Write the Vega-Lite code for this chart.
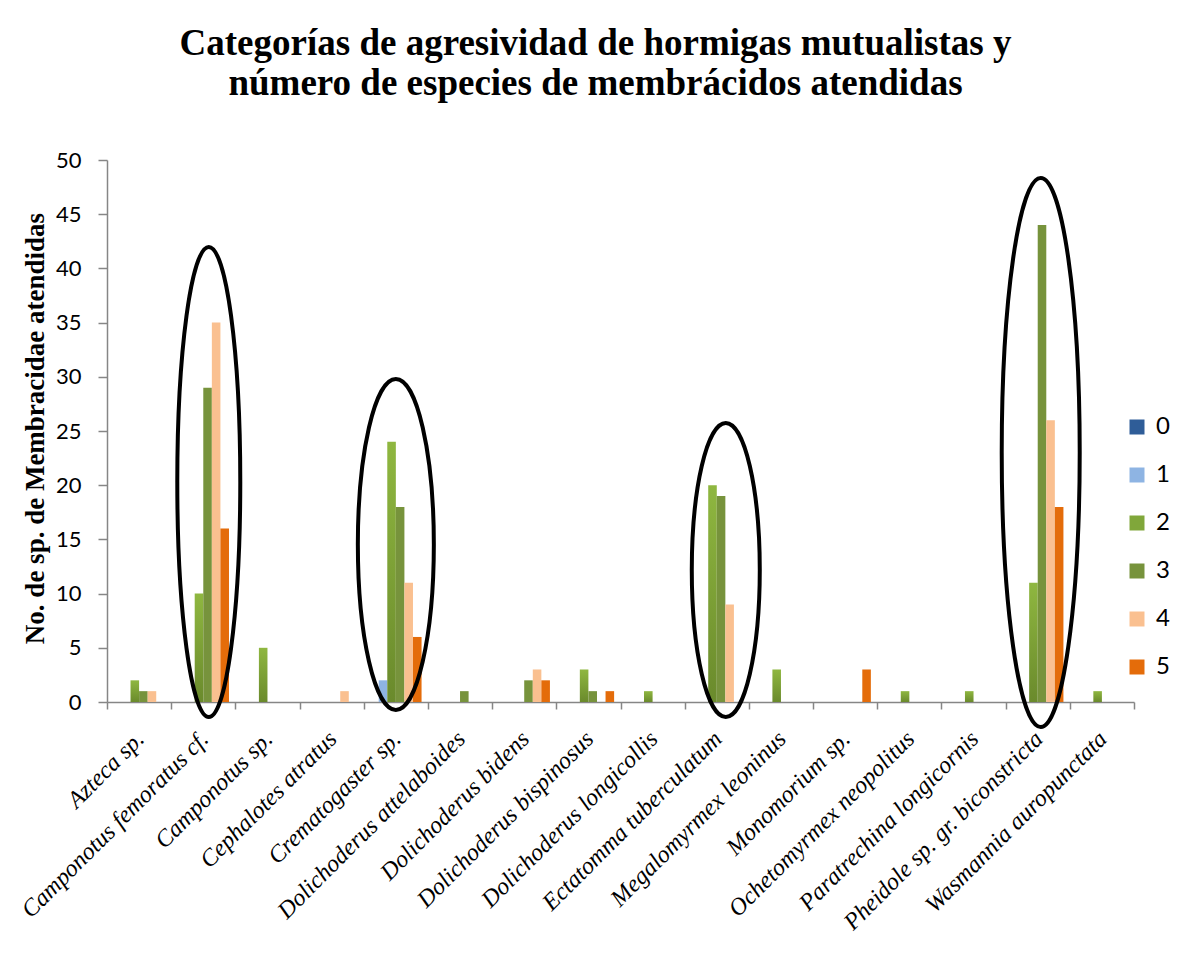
{
  "$schema": "https://vega.github.io/schema/vega-lite/v6.json",
  "width": 1027,
  "height": 542,
  "autosize": "none",
  "padding": {"left": 107, "top": 160, "right": 47, "bottom": 265},
  "background": "white",
  "title": {
    "text": ["Categorías de agresividad de hormigas mutualistas y", "número de especies de membrácidos atendidas"],
    "font": "Liberation Serif",
    "fontSize": 37,
    "fontWeight": "bold",
    "color": "black",
    "lineHeight": 40,
    "anchor": "middle",
    "frame": "group",
    "offset": 46,
    "dx": -25
  },
  "config": {
    "view": {"stroke": null},
    "axis": {"grid": false, "domainColor": "#868686", "tickColor": "#868686", "domainWidth": 1.5, "tickWidth": 1.5}
  },
  "layer": [
    {
      "data": {
        "values": [
          {"especie": "Azteca sp.", "cat": "2", "n": 2},
          {"especie": "Azteca sp.", "cat": "3", "n": 1},
          {"especie": "Azteca sp.", "cat": "4", "n": 1},
          {"especie": "Camponotus femoratus cf.", "cat": "2", "n": 10},
          {"especie": "Camponotus femoratus cf.", "cat": "3", "n": 29},
          {"especie": "Camponotus femoratus cf.", "cat": "4", "n": 35},
          {"especie": "Camponotus femoratus cf.", "cat": "5", "n": 16},
          {"especie": "Camponotus sp.", "cat": "2", "n": 5},
          {"especie": "Cephalotes atratus", "cat": "4", "n": 1},
          {"especie": "Crematogaster sp.", "cat": "1", "n": 2},
          {"especie": "Crematogaster sp.", "cat": "2", "n": 24},
          {"especie": "Crematogaster sp.", "cat": "3", "n": 18},
          {"especie": "Crematogaster sp.", "cat": "4", "n": 11},
          {"especie": "Crematogaster sp.", "cat": "5", "n": 6},
          {"especie": "Dolichoderus attelaboides", "cat": "3", "n": 1},
          {"especie": "Dolichoderus bidens", "cat": "3", "n": 2},
          {"especie": "Dolichoderus bidens", "cat": "4", "n": 3},
          {"especie": "Dolichoderus bidens", "cat": "5", "n": 2},
          {"especie": "Dolichoderus bispinosus", "cat": "2", "n": 3},
          {"especie": "Dolichoderus bispinosus", "cat": "3", "n": 1},
          {"especie": "Dolichoderus bispinosus", "cat": "5", "n": 1},
          {"especie": "Dolichoderus longicollis", "cat": "2", "n": 1},
          {"especie": "Ectatomma tuberculatum", "cat": "2", "n": 20},
          {"especie": "Ectatomma tuberculatum", "cat": "3", "n": 19},
          {"especie": "Ectatomma tuberculatum", "cat": "4", "n": 9},
          {"especie": "Megalomyrmex leoninus", "cat": "2", "n": 3},
          {"especie": "Monomorium sp.", "cat": "5", "n": 3},
          {"especie": "Ochetomyrmex neopolitus", "cat": "2", "n": 1},
          {"especie": "Paratrechina longicornis", "cat": "2", "n": 1},
          {"especie": "Pheidole sp. gr. biconstricta", "cat": "2", "n": 11},
          {"especie": "Pheidole sp. gr. biconstricta", "cat": "3", "n": 44},
          {"especie": "Pheidole sp. gr. biconstricta", "cat": "4", "n": 26},
          {"especie": "Pheidole sp. gr. biconstricta", "cat": "5", "n": 18},
          {"especie": "Wasmannia auropunctata", "cat": "2", "n": 1}
        ]
      },
      "mark": {"type": "bar"},
      "encoding": {
        "x": {
          "field": "especie",
          "type": "nominal",
          "sort": null,
          "scale": {
            "domain": ["Azteca sp.", "Camponotus femoratus cf.", "Camponotus sp.", "Cephalotes atratus", "Crematogaster sp.", "Dolichoderus attelaboides", "Dolichoderus bidens", "Dolichoderus bispinosus", "Dolichoderus longicollis", "Ectatomma tuberculatum", "Megalomyrmex leoninus", "Monomorium sp.", "Ochetomyrmex neopolitus", "Paratrechina longicornis", "Pheidole sp. gr. biconstricta", "Wasmannia auropunctata"],
            "paddingInner": 0,
            "paddingOuter": 0
          },
          "axis": {
            "title": null,
            "labelAngle": -45,
            "labelAlign": "right",
            "labelBaseline": "middle",
            "labelFont": "Liberation Serif",
            "labelFontStyle": "italic",
            "labelFontSize": 24,
            "labelColor": "black",
            "labelPadding": 26,
            "labelOffset": 1,
            "tickBand": "extent",
            "tickSize": 7,
            "labelLimit": 400
          }
        },
        "xOffset": {
          "field": "cat",
          "type": "nominal",
          "scale": {"domain": ["0", "1", "2", "3", "4", "5"], "paddingInner": 0, "paddingOuter": 0.745}
        },
        "y": {
          "field": "n",
          "type": "quantitative",
          "scale": {"domain": [0, 50], "nice": false},
          "axis": {
            "title": "No. de sp. de Membracidae atendidas",
            "titleFont": "Liberation Serif",
            "titleFontSize": 27,
            "titleFontWeight": "bold",
            "titleColor": "black",
            "titleX": -72,
            "titleY": 268,
            "titleAngle": -90,
            "titleAlign": "center",
            "titleBaseline": "middle",
            "values": [0, 5, 10, 15, 20, 25, 30, 35, 40, 45, 50],
            "labelFont": "Lato",
            "labelFontSize": 22,
            "labelColor": "black",
            "labelPadding": 17,
            "tickSize": 9
          }
        },
        "color": {
          "field": "cat",
          "type": "nominal",
          "scale": {
            "domain": ["0", "1", "2", "3", "4", "5"],
            "range": ["#2F5D98", "#8EB4E3", "#80A73A", "#77933C", "#FAC090", "#E46C0A"]
          },
          "legend": {
            "orient": "none",
            "legendX": 1018,
            "legendY": 255,
            "title": null,
            "symbolType": "square",
            "symbolSize": 225,
            "symbolStrokeWidth": 0,
            "labelFont": "Lato",
            "labelFontSize": 24,
            "labelColor": "black",
            "labelOffset": 7,
            "rowPadding": 24
          },
          "condition": {
            "test": "datum.cat === '2'",
            "value": {
              "gradient": "linear",
              "x1": 0, "y1": 0, "x2": 0, "y2": 1,
              "stops": [{"offset": 0, "color": "#8FB740"}, {"offset": 1, "color": "#6A8A2C"}]
            }
          }
        }
      }
    },
    {
      "data": {
        "values": [
          {"especie": "Camponotus femoratus cf."},
          {"especie": "Crematogaster sp."},
          {"especie": "Ectatomma tuberculatum"},
          {"especie": "Pheidole sp. gr. biconstricta"}
        ]
      },
      "mark": {"type": "point", "filled": false, "stroke": "black", "strokeWidth": 4, "size": 40000, "opacity": 1},
      "encoding": {
        "x": {"field": "especie", "type": "nominal", "sort": null},
        "y": {"datum": 0, "type": "quantitative"},
        "shape": {
          "field": "especie",
          "type": "nominal",
          "scale": {
            "domain": ["Camponotus femoratus cf.", "Crematogaster sp.", "Ectatomma tuberculatum", "Pheidole sp. gr. biconstricta"],
            "range": [
              "M0.055,-4.55A0.315,2.35,0,1,1,0.055,0.15A0.315,2.35,0,1,1,0.055,-4.55Z",
              "M0,-3.23A0.38,1.655,0,1,1,0,0.08A0.38,1.655,0,1,1,0,-3.23Z",
              "M0.09,-2.79A0.34,1.47,0,1,1,0.09,0.15A0.34,1.47,0,1,1,0.09,-2.79Z",
              "M0.03,-5.24A0.39,2.745,0,1,1,0.03,0.25A0.39,2.745,0,1,1,0.03,-5.24Z"
            ]
          },
          "legend": null
        }
      }
    }
  ]
}
